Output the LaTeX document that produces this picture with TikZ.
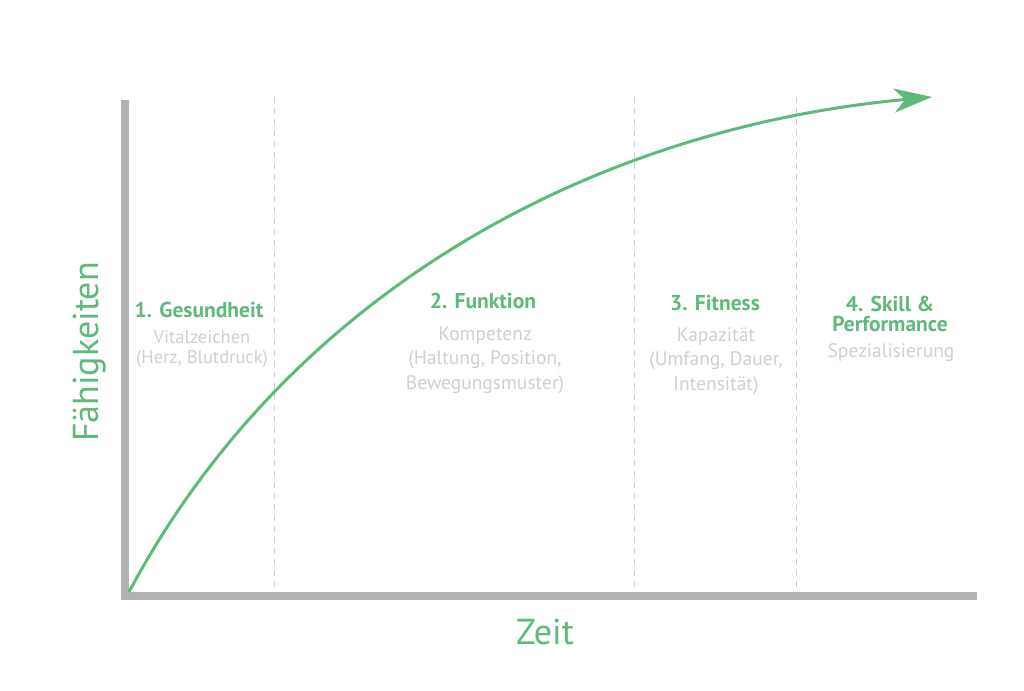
\documentclass[tikz,border=0pt]{standalone}
\usepackage{fontspec}
\setmainfont{PT Sans}
\usetikzlibrary{arrows.meta}

\definecolor{kurvegruen}{RGB}{95,185,122}
\definecolor{achsegrau}{RGB}{178,178,178}
\definecolor{textgrau}{RGB}{208,208,208}
\definecolor{trenngrau}{RGB}{205,205,205}

\begin{document}
\begin{tikzpicture}[x=1pt, y=-1pt,
    achse/.style={draw=achsegrau, line width=8pt, line join=miter},
    trenner/.style={draw=trenngrau, line width=1pt, dash pattern=on 6pt off 5pt},
    titel/.style={text=kurvegruen, font=\bfseries\fontsize{21.5}{20}\selectfont, align=center, inner sep=0pt, anchor=base},
    info/.style={text=textgrau, font=\fontsize{19.5}{24.5}\selectfont, align=center, inner sep=0pt, anchor=base},
    achsname/.style={text=kurvegruen, font=\fontsize{36}{40}\selectfont, inner sep=0pt}]
      \useasboundingbox (0,0) rectangle (1024,690);

      % Achsen
      \coordinate (O)    at (125,596);
      \coordinate (ytop) at (125,100);
      \coordinate (xend) at (977,596);
      \draw[achse] (ytop) -- (O) -- (xend);

      % Phasengrenzen
      \foreach \x/\n in {274/a, 634/b, 796/c} {
        \coordinate (\n oben)  at (\x,97);
        \coordinate (\n unten) at (\x,592);
        \draw[trenner] (\n oben) -- (\n unten);
      }

      % Kurve
      \coordinate (start) at (129,592);
      \coordinate (ziel)  at (932,97);
      \draw[kurvegruen, line width=3pt, -{Stealth[length=38pt, width=24pt, inset=11pt]}]
        (start) .. controls (290,290) and (595,128) .. (ziel);

      % Phasen (base = Grundlinie der letzten Zeile)
      \node[titel] (g1) at (199,317) {1. Gesundheit};
      \node[info, font=\fontsize{18.5}{19.5}\selectfont] (i1) at (202,363)
        {Vitalzeichen\\(Herz, Blutdruck)};

      \node[titel] (g2) at (483,308) {2. Funktion};
      \node[info] (i2) at (485,389)
        {Kompetenz\\(Haltung, Position,\\Bewegungsmuster)};

      \node[titel] (g3) at (715,310) {3. Fitness};
      \node[info] (i3) at (716,390)
        {Kapazität\\(Umfang, Dauer,\\Intensität)};

      \node[titel] (g4) at (890,331) {4. Skill \&\\Performance};
      \node[info] (i4) at (891,357) {Spezialisierung};

      % Achsenbeschriftung
      \node[achsname, rotate=90] (yname) at (90,352) {Fähigkeiten};
      \node[achsname] (xname) at (545,632) {Zeit};
\end{tikzpicture}
\end{document}
